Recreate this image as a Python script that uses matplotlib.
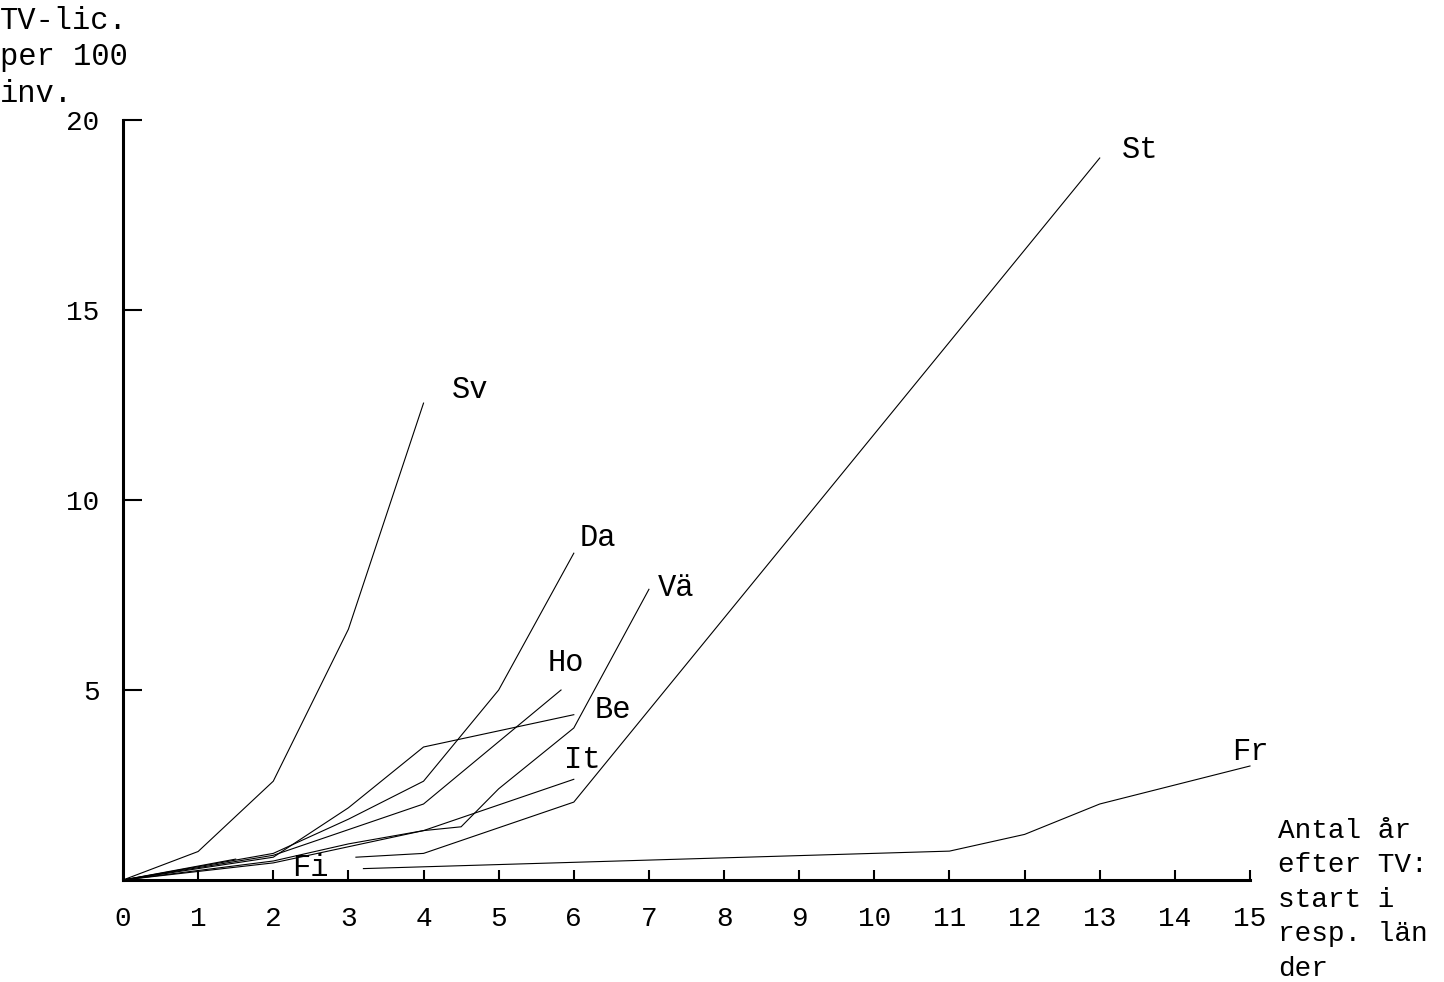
import matplotlib
matplotlib.use("Agg")
import matplotlib.pyplot as plt

plt.rcParams['font.family'] = ['Liberation Mono', 'DejaVu Sans Mono']

# ---- data ----
sv_x = [0, 1, 2, 3, 4]
sv_y = [0, 0.75, 2.6, 6.6, 12.55]
da_x = [0, 2, 3, 4, 5, 6]
da_y = [0, 0.7, 1.6, 2.6, 5.0, 8.6]
ho_x = [0, 2, 4, 5.83]
ho_y = [0, 0.65, 2.0, 5.0]
be_x = [0, 2, 3, 4, 6]
be_y = [0, 0.6, 1.9, 3.5, 4.35]
va_x = [0, 2, 3, 4, 4.5, 5, 6, 7]
va_y = [0, 0.5, 0.95, 1.3, 1.4, 2.4, 4.0, 7.65]
it_x = [0, 2, 4, 6]
it_y = [0, 0.45, 1.3, 2.65]
st_x = [3.1, 4, 6, 13]
st_y = [0.6, 0.7, 2.05, 19.0]
fr_x = [3.2, 11, 12, 13, 15]
fr_y = [0.3, 0.76, 1.2, 2.0, 3.0]
fi_x = [0, 1.5]
fi_y = [0, 0.55]

labels = ['Sv', 'Da', 'Ho', 'Be', 'Vä', 'It', 'St', 'Fr', 'Fi']
label_x = [4.62, 6.32, 5.89, 6.52, 7.36, 6.11, 13.54, 15.0, 2.49]
label_y = [12.9, 9.0, 5.71, 4.47, 7.68, 3.16, 19.2, 3.37, 0.32]

x_ticks = list(range(0, 16))
y_ticks = [0, 5, 10, 15, 20]

fig = plt.figure(figsize=(14.44, 9.82), dpi=100)
ax = fig.add_axes([123/1444, 1-880/982, (1250-123)/1444, (880-120)/982])

series = [(sv_x, sv_y), (da_x, da_y), (ho_x, ho_y), (be_x, be_y),
          (va_x, va_y), (it_x, it_y), (st_x, st_y), (fr_x, fr_y), (fi_x, fi_y)]
for xs, ys in series:
    ax.plot(xs, ys, color='black', lw=0.8, clip_on=False)

for lab, lx, ly in zip(labels, label_x, label_y):
    ax.text(lx, ly, lab, fontsize=22, ha='center', va='center', color='black')

ax.set_xlim(0, 15)
ax.set_ylim(0, 20)
ax.set_xticks(x_ticks)
ax.set_xticklabels([str(v) for v in x_ticks], fontsize=20)
ax.set_yticks(y_ticks)
ax.set_yticklabels([str(v) for v in y_ticks], fontsize=20)
ax.yaxis.get_major_ticks()[0].label1.set_visible(False)
ax.tick_params(axis='x', direction='in', length=7, width=1.5, pad=19)
ax.tick_params(axis='y', direction='in', length=14, width=1.5, pad=17)
for s in ['top', 'right']:
    ax.spines[s].set_visible(False)
for s in ['left', 'bottom']:
    ax.spines[s].set_linewidth(2.2)

fig.text(0/1444, 1-6/982, "TV-lic.\nper 100\ninv.", fontsize=22,
         ha='left', va='top', linespacing=1.28)
fig.text(1278/1444, 1-818/982, "Antal år\nefter TV:\nstart i\nresp. län\nder",
         fontsize=20, ha='left', va='top', linespacing=1.42)

fig.savefig('out.png', dpi=100, facecolor='white')
